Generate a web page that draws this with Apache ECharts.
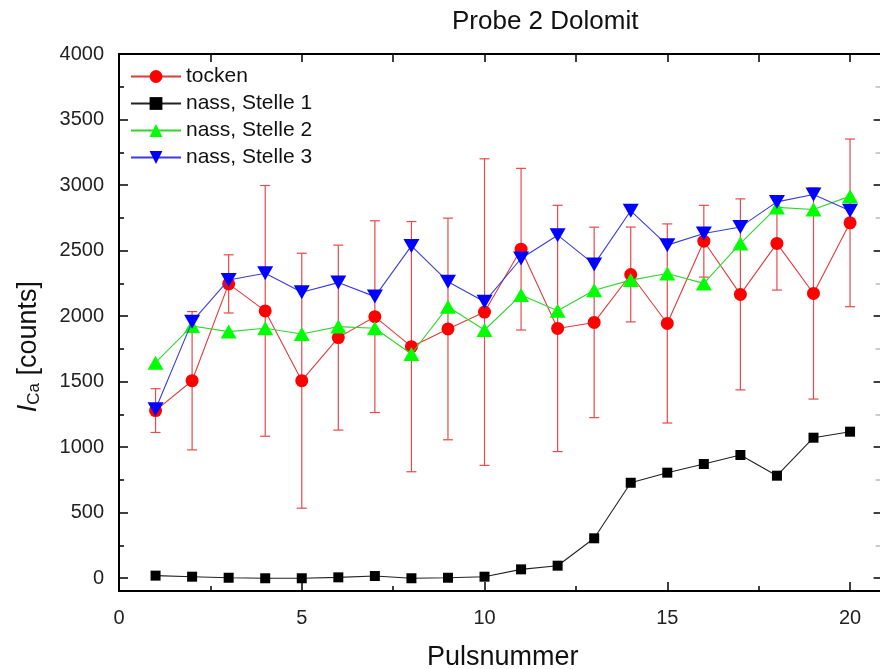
<!DOCTYPE html>
<html><head><meta charset="utf-8">
<script src="https://cdn.jsdelivr.net/npm/echarts@6/dist/echarts.min.js"></script>
<style>html,body{margin:0;padding:0;background:#fff}#c{width:880px;height:669px}</style>
</head><body><div id="c"></div>
<script>
const pulses = [1,2,3,4,5,6,7,8,9,10,11,12,13,14,15,16,17,18,19,20];
const tocken = [1278,1506,2245,2039,1506,1835,1995,1766,1901,2030,2510,1905,1951,2317,1943,2571,2165,2554,2172,2711];
const tockenErr = [167,528,222,957,973,706,732,955,846,1170,617,940,727,362,760,274,729,356,806,640];
const stelle1 = [18,10,2,-2,-2,5,15,-2,2,10,66,94,303,727,804,870,939,781,1071,1117];
const stelle2 = [1644,1924,1881,1907,1863,1919,1907,1710,2071,1893,2160,2040,2197,2274,2325,2249,2554,2829,2813,2915];
const stelle3 = [1288,1957,2275,2326,2181,2255,2148,2535,2262,2108,2439,2617,2394,2803,2541,2630,2680,2871,2928,2803];
const seriesNames = ['tocken','nass, Stelle 1','nass, Stelle 2','nass, Stelle 3'];
const xMajorTicks = [0,5,10,15,20];
const xMinorTicks = [2.5,7.5,12.5,17.5];
const xTopTicks = [0,2.5,5,7.5,10,12.5,15,17.5,20];
const yMajorTicks = [0,500,1000,1500,2000,2500,3000,3500,4000];
const yMinorTicks = [250,750,1250,1750,2250,2750,3250,3750];

const FONT = 'Liberation Sans, Arial, sans-serif';
const X_MIN = 0, X_MAX = 21, Y_MIN = -100, Y_MAX = 4000;

function pair(xs, ys){ return xs.map((x,i)=>[x, ys[i]]); }
const plain = v => String(v);

const chart = echarts.init(document.getElementById('c'), null, {renderer:'canvas'});

function xAx(pos, ticks, len, labels, extra){
  return Object.assign({
    type:'value', position:pos, min:X_MIN, max:X_MAX,
    axisLine:{show:true, onZero:false, lineStyle:{color:'#000', width:2}},
    axisTick:{show:true, inside:true, length:len, customValues:ticks, lineStyle:{color:'#000', width:1.5}},
    axisLabel:labels ? {show:true, customValues:ticks, formatter:plain, margin:17, fontSize:20, color:'#222', fontFamily:FONT} : {show:false},
    splitLine:{show:false}
  }, extra||{});
}
function yAx(pos, ticks, len, labels, extra, tickColor){
  return Object.assign({
    type:'value', position:pos, min:Y_MIN, max:Y_MAX,
    axisLine:{show:true, onZero:false, lineStyle:{color:'#000', width:2}},
    axisTick:{show:true, inside:true, length:len, customValues:ticks, lineStyle:{color:tickColor||'#000', width:1.5}},
    axisLabel:labels ? {show:true, customValues:ticks, formatter:plain, margin:15, fontSize:20, color:'#222', fontFamily:FONT} : {show:false},
    splitLine:{show:false}
  }, extra||{});
}

const option = {
  backgroundColor:'#fff',
  animation:false,
  title:{text:'Probe 2 Dolomit', left:447, top:4, textStyle:{fontSize:26, fontWeight:'normal', color:'#111', fontFamily:FONT}},
  grid:{left:119, top:54, width:767.6, height:537.1, containLabel:false, outerBoundsMode:'none'},
  legend:{
    orient:'vertical', left:125, top:61, itemWidth:50, itemHeight:16, itemGap:6,
    data:seriesNames, textStyle:{fontSize:21, color:'#111', fontFamily:FONT}, selectedMode:false
  },
  xAxis:[
    xAx('bottom', xMajorTicks, 9, true, {name:'Pulsnummer', nameLocation:'middle', nameGap:53,
      nameTextStyle:{fontSize:27, color:'#111', fontFamily:FONT}}),
    xAx('bottom', xMinorTicks, 5, false),
    xAx('top', xTopTicks, 8, false)
  ],
  yAxis:[
    yAx('left', yMajorTicks, 9, true, {
      name:'{i|I}{sub|Ca}{n| [counts]}', nameLocation:'middle', nameGap:76, nameRotate:90,
      nameTextStyle:{padding:[0,48,0,0], fontFamily:FONT, color:'#111',
        rich:{
          i:{fontSize:27, fontStyle:'italic', fontFamily:FONT, color:'#111'},
          sub:{fontSize:17, fontFamily:FONT, color:'#111', verticalAlign:'bottom', padding:[12,0,0,0]},
          n:{fontSize:27, fontFamily:FONT, color:'#111'}
        }}
    }),
    yAx('left', yMinorTicks, 5, false),
    yAx('right', yMajorTicks, 13, false),
    yAx('right', yMinorTicks, 11, false, null, '#bbb')
  ],
  series:[
    {
      type:'custom', name:'err', xAxisIndex:0, yAxisIndex:0, z:1, silent:true,
      data: pulses.map((x,i)=>[x, tocken[i], tockenErr[i]]),
      renderItem:function(params, api){
        const x = api.value(0), y = api.value(1), e = api.value(2);
        const top = api.coord([x, y+e]);
        const bot = api.coord([x, y-e]);
        const st = {stroke:'#e64a4a', lineWidth:1.2};
        const hw = 5;
        return {type:'group', children:[
          {type:'line', shape:{x1:top[0], y1:top[1], x2:bot[0], y2:bot[1]}, style:st},
          {type:'line', shape:{x1:top[0]-hw, y1:top[1], x2:top[0]+hw, y2:top[1]}, style:st},
          {type:'line', shape:{x1:bot[0]-hw, y1:bot[1], x2:bot[0]+hw, y2:bot[1]}, style:st}
        ]};
      }
    },
    {
      type:'line', name:seriesNames[0], data:pair(pulses, tocken), z:3,
      symbol:'circle', symbolSize:13, showAllSymbol:true,
      lineStyle:{color:'#e23b3b', width:1.1}, itemStyle:{color:'#ff0000'}
    },
    {
      type:'line', name:seriesNames[1], data:pair(pulses, stelle1), z:3,
      symbol:'rect', symbolSize:10, showAllSymbol:true,
      lineStyle:{color:'#222', width:1.1}, itemStyle:{color:'#000'}
    },
    {
      type:'line', name:seriesNames[2], data:pair(pulses, stelle2), z:4,
      symbol:'triangle', symbolSize:[16,14], showAllSymbol:true,
      lineStyle:{color:'#2fd62f', width:1.1}, itemStyle:{color:'#00ff00'}
    },
    {
      type:'line', name:seriesNames[3], data:pair(pulses, stelle3), z:5,
      symbol:'triangle', symbolRotate:180, symbolSize:[16,14], showAllSymbol:true,
      lineStyle:{color:'#3b3bdd', width:1.1}, itemStyle:{color:'#0000ff'}
    }
  ]
};
chart.setOption(option);
</script>
</body></html>
